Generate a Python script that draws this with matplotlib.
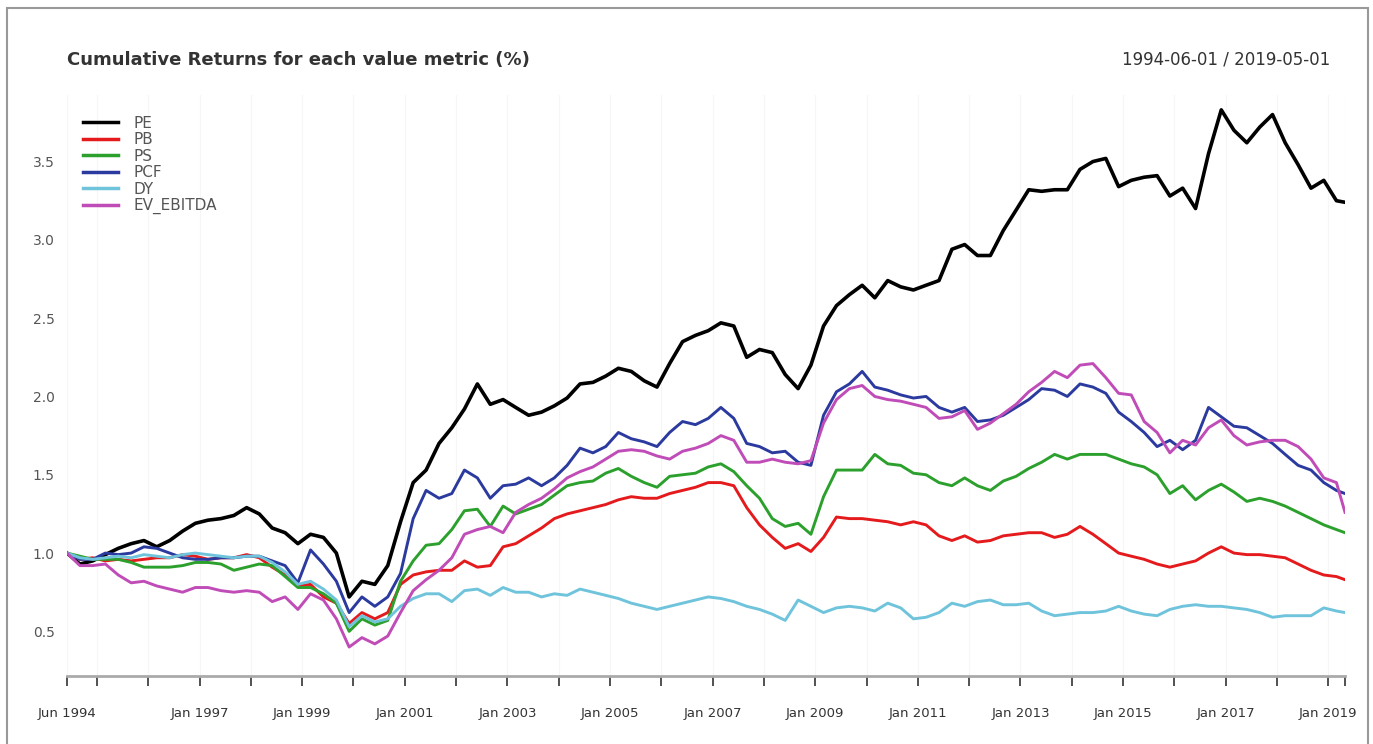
import matplotlib
matplotlib.use("Agg")
import matplotlib.pyplot as plt
import matplotlib.patches as patches
import pandas as pd

# quarterly readings from the chart, Jun 1994 .. Mar 2019, plus the last month (May 2019)
dates = list(pd.date_range("1994-06-01", "2019-03-01", freq="3MS")) + [pd.Timestamp("2019-05-01")]

pe = [1.00, 0.93, 0.95, 0.99, 1.03, 1.06, 1.08, 1.04, 1.08, 1.14,
      1.19, 1.21, 1.22, 1.24, 1.29, 1.25, 1.16, 1.13, 1.06, 1.12,
      1.10, 1.00, 0.72, 0.82, 0.80, 0.92, 1.20, 1.45, 1.53, 1.70,
      1.80, 1.92, 2.08, 1.95, 1.98, 1.93, 1.88, 1.90, 1.94, 1.99,
      2.08, 2.09, 2.13, 2.18, 2.16, 2.10, 2.06, 2.21, 2.35, 2.39,
      2.42, 2.47, 2.45, 2.25, 2.30, 2.28, 2.14, 2.05, 2.20, 2.45,
      2.58, 2.65, 2.71, 2.63, 2.74, 2.70, 2.68, 2.71, 2.74, 2.94,
      2.97, 2.90, 2.90, 3.06, 3.19, 3.32, 3.31, 3.32, 3.32, 3.45,
      3.50, 3.52, 3.34, 3.38, 3.40, 3.41, 3.28, 3.33, 3.20, 3.55,
      3.83, 3.70, 3.62, 3.72, 3.80, 3.62, 3.48, 3.33, 3.38, 3.25,
      3.24]
pb = [1.00, 0.96, 0.97, 0.95, 0.96, 0.95, 0.96, 0.97, 0.97, 0.99,
      0.98, 0.96, 0.97, 0.97, 0.99, 0.97, 0.91, 0.86, 0.79, 0.80,
      0.72, 0.68, 0.55, 0.62, 0.58, 0.62, 0.80, 0.86, 0.88, 0.89,
      0.89, 0.95, 0.91, 0.92, 1.04, 1.06, 1.11, 1.16, 1.22, 1.25,
      1.27, 1.29, 1.31, 1.34, 1.36, 1.35, 1.35, 1.38, 1.40, 1.42,
      1.45, 1.45, 1.43, 1.29, 1.18, 1.10, 1.03, 1.06, 1.01, 1.10,
      1.23, 1.22, 1.22, 1.21, 1.20, 1.18, 1.20, 1.18, 1.11, 1.08,
      1.11, 1.07, 1.08, 1.11, 1.12, 1.13, 1.13, 1.10, 1.12, 1.17,
      1.12, 1.06, 1.00, 0.98, 0.96, 0.93, 0.91, 0.93, 0.95, 1.00,
      1.04, 1.00, 0.99, 0.99, 0.98, 0.97, 0.93, 0.89, 0.86, 0.85,
      0.83]
ps = [1.00, 0.98, 0.96, 0.96, 0.96, 0.94, 0.91, 0.91, 0.91, 0.92,
      0.94, 0.94, 0.93, 0.89, 0.91, 0.93, 0.92, 0.85, 0.78, 0.78,
      0.74, 0.68, 0.50, 0.58, 0.54, 0.57, 0.82, 0.95, 1.05, 1.06,
      1.15, 1.27, 1.28, 1.17, 1.30, 1.25, 1.28, 1.31, 1.37, 1.43,
      1.45, 1.46, 1.51, 1.54, 1.49, 1.45, 1.42, 1.49, 1.50, 1.51,
      1.55, 1.57, 1.52, 1.43, 1.35, 1.22, 1.17, 1.19, 1.12, 1.36,
      1.53, 1.53, 1.53, 1.63, 1.57, 1.56, 1.51, 1.50, 1.45, 1.43,
      1.48, 1.43, 1.40, 1.46, 1.49, 1.54, 1.58, 1.63, 1.60, 1.63,
      1.63, 1.63, 1.60, 1.57, 1.55, 1.50, 1.38, 1.43, 1.34, 1.40,
      1.44, 1.39, 1.33, 1.35, 1.33, 1.30, 1.26, 1.22, 1.18, 1.15,
      1.13]
pcf = [1.00, 0.96, 0.96, 1.00, 0.99, 1.00, 1.04, 1.03, 1.00, 0.97,
       0.96, 0.96, 0.97, 0.97, 0.98, 0.98, 0.95, 0.92, 0.81, 1.02,
       0.93, 0.82, 0.62, 0.72, 0.66, 0.72, 0.87, 1.22, 1.40, 1.35,
       1.38, 1.53, 1.48, 1.35, 1.43, 1.44, 1.48, 1.43, 1.48, 1.56,
       1.67, 1.64, 1.68, 1.77, 1.73, 1.71, 1.68, 1.77, 1.84, 1.82,
       1.86, 1.93, 1.86, 1.70, 1.68, 1.64, 1.65, 1.58, 1.56, 1.88,
       2.03, 2.08, 2.16, 2.06, 2.04, 2.01, 1.99, 2.00, 1.93, 1.90,
       1.93, 1.84, 1.85, 1.88, 1.93, 1.98, 2.05, 2.04, 2.00, 2.08,
       2.06, 2.02, 1.90, 1.84, 1.77, 1.68, 1.72, 1.66, 1.72, 1.93,
       1.87, 1.81, 1.80, 1.75, 1.70, 1.63, 1.56, 1.53, 1.45, 1.40,
       1.38]
dy = [1.00, 0.97, 0.96, 0.97, 0.98, 0.97, 0.99, 0.98, 0.97, 0.99,
      1.00, 0.99, 0.98, 0.97, 0.98, 0.98, 0.94, 0.88, 0.80, 0.82,
      0.77, 0.70, 0.53, 0.60, 0.56, 0.58, 0.66, 0.71, 0.74, 0.74,
      0.69, 0.76, 0.77, 0.73, 0.78, 0.75, 0.75, 0.72, 0.74, 0.73,
      0.77, 0.75, 0.73, 0.71, 0.68, 0.66, 0.64, 0.66, 0.68, 0.70,
      0.72, 0.71, 0.69, 0.66, 0.64, 0.61, 0.57, 0.70, 0.66, 0.62,
      0.65, 0.66, 0.65, 0.63, 0.68, 0.65, 0.58, 0.59, 0.62, 0.68,
      0.66, 0.69, 0.70, 0.67, 0.67, 0.68, 0.63, 0.60, 0.61, 0.62,
      0.62, 0.63, 0.66, 0.63, 0.61, 0.60, 0.64, 0.66, 0.67, 0.66,
      0.66, 0.65, 0.64, 0.62, 0.59, 0.60, 0.60, 0.60, 0.65, 0.63,
      0.62]
ev_ebitda = [1.00, 0.92, 0.92, 0.93, 0.86, 0.81, 0.82, 0.79, 0.77, 0.75,
             0.78, 0.78, 0.76, 0.75, 0.76, 0.75, 0.69, 0.72, 0.64, 0.74,
             0.70, 0.58, 0.40, 0.46, 0.42, 0.47, 0.62, 0.76, 0.83, 0.89,
             0.97, 1.12, 1.15, 1.17, 1.13, 1.26, 1.31, 1.35, 1.41, 1.48,
             1.52, 1.55, 1.60, 1.65, 1.66, 1.65, 1.62, 1.60, 1.65, 1.67,
             1.70, 1.75, 1.72, 1.58, 1.58, 1.60, 1.58, 1.57, 1.59, 1.83,
             1.98, 2.05, 2.07, 2.00, 1.98, 1.97, 1.95, 1.93, 1.86, 1.87,
             1.91, 1.79, 1.83, 1.89, 1.95, 2.03, 2.09, 2.16, 2.12, 2.20,
             2.21, 2.12, 2.02, 2.01, 1.84, 1.77, 1.64, 1.72, 1.69, 1.80,
             1.85, 1.75, 1.69, 1.71, 1.72, 1.72, 1.68, 1.60, 1.48, 1.45,
             1.26]

names = ["PE", "PB", "PS", "PCF", "DY", "EV_EBITDA"]
series = [pe, pb, ps, pcf, dy, ev_ebitda]
colors = ["#000000", "#e41a1c", "#2ca02c", "#2b3a9e", "#6fc4dc", "#c04cb8"]
widths = [2.6, 2.1, 2.1, 2.1, 2.1, 2.1]

label_years = [1997, 1999, 2001, 2003, 2005, 2007, 2009, 2011, 2013, 2015, 2017, 2019]

plt.rcParams["font.family"] = ["DejaVu Sans"]

fig = plt.figure(figsize=(13.73, 7.44), dpi=100)
ax = fig.add_axes([67 / 1373, 1 - 676 / 744, (1345 - 67) / 1373, (676 - 95) / 744])

for vals, name, c, lw in zip(series, names, colors, widths):
    ax.plot(dates, vals, color=c, lw=lw, label=name, solid_joinstyle="round")

ax.set_xlim(pd.Timestamp("1994-06-01"), pd.Timestamp("2019-05-01"))
ax.set_ylim(0.215, 3.925)

# x ticks: start, every January, end
tick_dates = [pd.Timestamp("1994-06-01")] + [pd.Timestamp(f"{y}-01-01") for y in range(1995, 2020)] \
    + [pd.Timestamp("2019-05-01")]
tick_labels = ["Jun 1994"]
for y in range(1995, 2020):
    tick_labels.append(f"Jan {y}" if y in label_years else "")
tick_labels.append("")
ax.set_xticks(tick_dates)
ax.set_xticklabels(tick_labels)
ax.tick_params(axis="x", direction="out", length=7, width=1.2, color="#333333",
               labelsize=9.5, labelcolor="#333333", pad=15)

ax.set_yticks([0.5, 1.0, 1.5, 2.0, 2.5, 3.0, 3.5])
ax.set_yticklabels(["0.5", "1.0", "1.5", "2.0", "2.5", "3.0", "3.5"])
ax.tick_params(axis="y", length=0, labelsize=10, labelcolor="#555555", pad=9)

ax.grid(axis="x", color="#f6f6f6", lw=0.8)
ax.set_axisbelow(True)
for s in ["top", "right", "left"]:
    ax.spines[s].set_visible(False)
ax.spines["bottom"].set_color("#aaaaaa")
ax.spines["bottom"].set_linewidth(2.0)

leg = ax.legend(loc="upper left", bbox_to_anchor=(0.008, 0.975), frameon=False,
                fontsize=11, handlelength=2.3, handletextpad=1.0, labelspacing=0.1,
                borderaxespad=0)
for t in leg.get_texts():
    t.set_color("#555555")
for h in leg.get_lines():
    h.set_linewidth(2.5)

fig.text(67 / 1373, 1 - 60 / 744, "Cumulative Returns for each value metric (%)",
         fontsize=13, fontweight="bold", color="#333333", ha="left", va="center")
fig.text(1330 / 1373, 1 - 60 / 744, "1994-06-01 / 2019-05-01",
         fontsize=12, color="#333333", ha="right", va="center")

fig.patches.append(patches.Rectangle((7 / 1373, -0.01), (1368 - 7) / 1373, 1 - 8 / 744 + 0.01,
                                     transform=fig.transFigure, fill=False,
                                     edgecolor="#999999", lw=1.5))

fig.savefig("out.png", dpi=100, facecolor="white")
